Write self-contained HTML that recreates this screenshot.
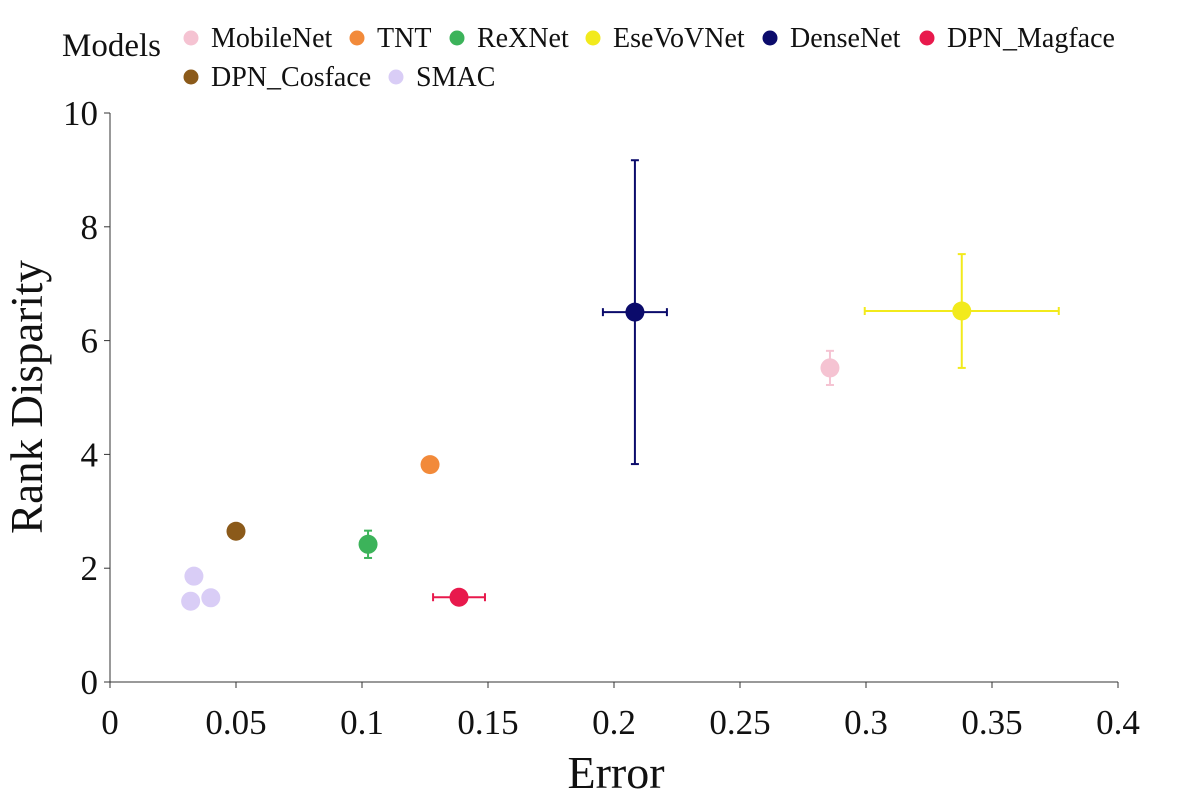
<!DOCTYPE html>
<html><head><meta charset="utf-8"><style>
body{margin:0;background:#fff}
svg{display:block;font-family:"Liberation Serif",serif}
</style></head><body>
<svg id="chart" width="1200" height="800">
<g id="legend"></g>
<g id="axes"></g>
<g id="marks"></g>
</svg>
<script>
const models=["MobileNet","TNT","ReXNet","EseVoVNet","DenseNet","DPN_Magface","DPN_Cosface","SMAC"];
const colors=["#f5c3d2","#f28a3a","#3cb35a","#f2ea1c","#0b0b6b","#e8194c","#8b5a1a","#d9cdf6"];
const pointModel=[0,1,2,3,4,5,6,7,7,7];
const errorX=[0.2857,0.127,0.1024,0.338,0.2083,0.1385,0.05,0.0333,0.032,0.040];
const rankY=[5.52,3.82,2.42,6.52,6.5,1.49,2.65,1.86,1.42,1.48];
const xErr=[0,0,0,0.0385,0.0127,0.0103,0,0,0,0];
const yErr=[0.3,0,0.24,1.0,2.67,0,0,0,0,0];
const xTicks=[0,0.05,0.1,0.15,0.2,0.25,0.3,0.35,0.4];
const xTickLabels=["0","0.05","0.1","0.15","0.2","0.25","0.3","0.35","0.4"];
const yTicks=[0,2,4,6,8,10];
const yTickLabels=["0","2","4","6","8","10"];
const NS="http://www.w3.org/2000/svg";
const X0=110,X1=1118,Y0=682,Y1=113;
const sx=v=>X0+v/0.4*(X1-X0);
const sy=v=>Y0-v/10*(Y0-Y1);
function mk(parent,tag,attrs,text){const e=document.createElementNS(NS,tag);for(const k in attrs)e.setAttribute(k,attrs[k]);if(text!==undefined)e.textContent=text;parent.appendChild(e);return e;}
const axes=document.getElementById('axes');
let l=mk(axes,'line',{x1:X0,y1:Y1,x2:X0,y2:Y0,stroke:'#333','stroke-width':1});


l=mk(axes,'line',{x1:X0,y1:Y0,x2:X1,y2:Y0,stroke:'#333','stroke-width':1});


xTicks.forEach((v,i)=>{
 mk(axes,'line',{x1:sx(v),y1:Y0,x2:sx(v),y2:Y0+6,stroke:'#333'});
 const t=mk(axes,'text',{x:sx(v),y:Y0+52,'text-anchor':'middle','font-size':35,fill:'#111'},xTickLabels[i]);
 
 
});
yTicks.forEach((v,i)=>{
 mk(axes,'line',{x1:X0-6,y1:sy(v),x2:X0,y2:sy(v),stroke:'#333'});
 const t=mk(axes,'text',{x:X0-12,y:sy(v)+12,'text-anchor':'end','font-size':35,fill:'#111'},yTickLabels[i]);
 
 
});
let t=mk(axes,'text',{x:616,y:788,'text-anchor':'middle','font-size':46,fill:'#111'},'Error');


t=mk(axes,'text',{x:42,y:397,'text-anchor':'middle','font-size':45,fill:'#111',transform:'rotate(-90 42 397)'},'Rank Disparity');


const marks=document.getElementById('marks');
pointModel.forEach((m,i)=>{
 const g=mk(marks,'g',{});
 
 
 const cx=sx(errorX[i]),cy=sy(rankY[i]),c=colors[m];
 if(xErr[i]>0){const a=sx(errorX[i]-xErr[i]),b=sx(errorX[i]+xErr[i]);
  mk(g,'line',{x1:a,y1:cy,x2:b,y2:cy,stroke:c,'stroke-width':2});
  mk(g,'line',{x1:a,y1:cy-4,x2:a,y2:cy+4,stroke:c,'stroke-width':2});
  mk(g,'line',{x1:b,y1:cy-4,x2:b,y2:cy+4,stroke:c,'stroke-width':2});}
 if(yErr[i]>0){const a=sy(rankY[i]-yErr[i]),b=sy(rankY[i]+yErr[i]);
  mk(g,'line',{x1:cx,y1:a,x2:cx,y2:b,stroke:c,'stroke-width':2});
  mk(g,'line',{x1:cx-4,y1:a,x2:cx+4,y2:a,stroke:c,'stroke-width':2});
  mk(g,'line',{x1:cx-4,y1:b,x2:cx+4,y2:b,stroke:c,'stroke-width':2});}
 mk(g,'circle',{cx:cx,cy:cy,r:9.5,fill:c});
});
const lg=document.getElementById('legend');
t=mk(lg,'text',{x:62,y:56,'font-size':33,fill:'#111'},'Models');


const legPos=[[191,47],[357,47],[457,47],[593,47],[770,47],[927,47],[191,86],[396,86]];
models.forEach((m,i)=>{
 const g=mk(lg,'g',{});
 
 
 mk(g,'circle',{cx:legPos[i][0],cy:legPos[i][1]-9,r:7.5,fill:colors[i]});
 mk(g,'text',{x:legPos[i][0]+20,y:legPos[i][1],'font-size':28,fill:'#111'},m);
});
</script>
</body></html>
